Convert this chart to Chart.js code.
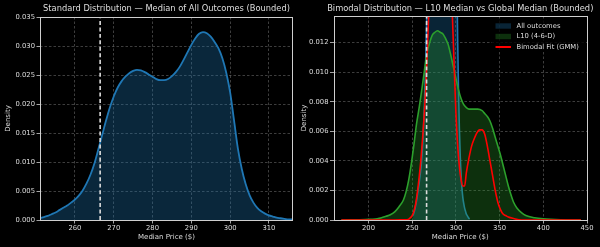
<!DOCTYPE html>
<html>
<head>
<meta charset="utf-8">
<script src="https://cdn.jsdelivr.net/npm/chart.js@4.4.0/dist/chart.umd.min.js"></script>
<style>
  html, body { margin: 0; padding: 0; background: #000; }
  #wrap { position: relative; width: 600px; height: 247px; }
  .panel { position: absolute; top: 0; width: 300px; height: 247px; }
</style>
</head>
<body>
<div id="wrap">
  <div class="panel" style="left:0"><canvas id="standard-chart" width="300" height="247"></canvas></div>
  <div class="panel" style="left:300px"><canvas id="bimodal-chart" width="300" height="247"></canvas></div>
</div>
<script>
// all outcomes: bounded KDE of the median price
var allPrice = [251, 252, 253, 254, 255, 256, 257, 258, 259, 260, 261, 262, 263, 264, 265, 266, 267, 268, 269, 270,
  271, 272, 273, 274, 275, 276, 277, 278, 279, 280, 281, 282, 283, 284, 285, 286, 287, 288, 289, 290,
  291, 292, 293, 294, 295, 296, 297, 298, 299, 300, 301, 302, 303, 304, 305, 306, 307, 308, 309, 310,
  311, 312, 313, 314, 315, 316];
var allDensity = [0.0003, 0.0005, 0.0007, 0.0010, 0.0013, 0.0017, 0.0021, 0.0025, 0.0030, 0.0035, 0.0042, 0.0051, 0.0063, 0.0078, 0.0097, 0.0121, 0.0146, 0.0171, 0.0194, 0.0213,
  0.0228, 0.0239, 0.0247, 0.0253, 0.0257, 0.0259, 0.0258, 0.0255, 0.0251, 0.0247, 0.0243, 0.0241, 0.0241, 0.0243, 0.0248, 0.0255, 0.0264, 0.0276, 0.0289, 0.0302,
  0.0313, 0.0321, 0.0324, 0.0322, 0.0316, 0.0307, 0.0296, 0.0279, 0.0254, 0.0220, 0.0172, 0.0123, 0.0088, 0.0062, 0.0043, 0.0030, 0.0021, 0.0015, 0.0011, 0.0008,
  0.0006, 0.0004, 0.0003, 0.0002, 0.0001, 0.0001];

// L10 (4-6-D)
var l10Price = [169, 180, 190, 200, 205, 210, 215, 220, 225, 230, 235, 240, 243, 246, 249, 252, 255, 258, 261, 264,
  267, 270, 273, 276, 279, 282, 285, 288, 291, 294, 297, 300, 303, 306, 309, 312, 315, 320, 325, 330,
  333, 336, 339, 342, 345, 348, 351, 354, 357, 360, 363, 366, 370, 375, 380, 390, 400, 420, 443];
var l10Density = [0, 0.00001, 0.00002, 0.00004, 0.00005, 0.00008, 0.00015, 0.00025, 0.00035, 0.00055, 0.0009, 0.00135, 0.0019, 0.0027, 0.0038, 0.0051, 0.0065, 0.0076, 0.0088, 0.0101,
  0.0113, 0.0120, 0.0125, 0.0127, 0.0128, 0.0127, 0.0126, 0.0123, 0.0119, 0.0112, 0.0104, 0.0096, 0.0088, 0.0082, 0.0078, 0.0076, 0.0075, 0.0075, 0.0075, 0.0074,
  0.0072, 0.0070, 0.0067, 0.0062, 0.0056, 0.0050, 0.0044, 0.0037, 0.0030, 0.0023, 0.0017, 0.0012, 0.0008, 0.0005, 0.0003, 0.00015, 0.00008, 0.00002, 0];

// bimodal fit (GMM)
var gmmPrice = [169, 200, 230, 240, 244, 247, 250, 252, 254, 256, 258, 260, 262, 264, 266, 268, 270, 273, 276, 280,
  284, 288, 292, 294, 296, 298, 300, 302, 304, 306, 308, 310, 312, 315, 318, 321, 324, 327, 330, 333,
  336, 339, 342, 345, 348, 351, 354, 357, 360, 366, 375, 443];
var gmmDensity = [0, 0, 0, 0.00001, 0.00002, 0.0001, 0.0003, 0.0006, 0.0011, 0.0019, 0.0029, 0.0041, 0.0056, 0.0073, 0.0095, 0.0125, 0.0155, 0.0200, 0.0240, 0.0270,
  0.0275, 0.0250, 0.0200, 0.0170, 0.0138, 0.0105, 0.0073, 0.0051, 0.0036, 0.0027, 0.0023, 0.0023, 0.0032, 0.0042, 0.0050, 0.0055, 0.0059, 0.0061, 0.0061, 0.0058,
  0.0050, 0.0040, 0.0030, 0.0020, 0.0012, 0.0007, 0.0004, 0.0003, 0.0002, 0.0001, 0, 0];

var globalMedian = 266.5;

var leftXRange = [251, 316.2];
var leftYMax = 0.035;
var leftXTicks = [260, 270, 280, 290, 300, 310];
var leftYTicks = [0, 0.005, 0.01, 0.015, 0.02, 0.025, 0.03, 0.035];

var rightXRange = [160, 450];
var rightYMax = 0.0138;
var rightXTicks = [200, 250, 300, 350, 400, 450];
var rightYTicks = [0, 0.002, 0.004, 0.006, 0.008, 0.01, 0.012];

var FONT = "'DejaVu Sans', sans-serif";
var TEXT = "#dedede";
var BLUE = "#1f77b4";
var GREEN = "#2ca02c";

function pts(xs, ys) {
  return xs.map(function (x, i) {
    return { x: x, y: ys[i] };
  });
}

function fixedTicks(list) {
  return function (scale) {
    scale.ticks = list.map(function (v) {
      return { value: v };
    });
  };
}

// frame, title and (optional) legend drawn on top of the plot
var panelDecor = {
  id: "panelDecor",
  afterDraw: function (chart, args, opts) {
    var ctx = chart.ctx;
    var a = chart.chartArea;
    ctx.save();
    ctx.strokeStyle = "#cfcfcf";
    ctx.lineWidth = 1;
    ctx.strokeRect(Math.round(a.left) + 0.5, Math.round(a.top) + 0.5,
      Math.round(a.right - a.left) - 1, Math.round(a.bottom - a.top));

    ctx.fillStyle = TEXT;
    ctx.font = "8.3px " + FONT;
    ctx.textAlign = "center";
    ctx.textBaseline = "middle";
    ctx.fillText(opts.title, (a.left + a.right) / 2, 9);

    if (opts.legend) {
      var lx = a.right - 95, ly = a.top + 3;
      ctx.fillStyle = "rgba(0,0,0,0.8)";
      ctx.fillRect(lx, ly, 92, 33);
      ctx.font = "6.8px " + FONT;
      ctx.textAlign = "left";
      chart.data.datasets.forEach(function (ds) {
        if (!ds.label) return;
        var row = ds.legendRow;
        var cy = ly + 7 + row * 10.5;
        if (ds.fill) {
          ctx.fillStyle = ds.backgroundColor;
          ctx.fillRect(lx + 3.5, cy - 2.7, 15.5, 5.4);
        } else {
          ctx.strokeStyle = ds.borderColor;
          ctx.lineWidth = 2;
          ctx.beginPath();
          ctx.moveTo(lx + 3.5, cy);
          ctx.lineTo(lx + 19, cy);
          ctx.stroke();
        }
        ctx.fillStyle = TEXT;
        ctx.fillText(ds.label, lx + 24.5, cy);
      });
    }
    ctx.restore();
  }
};

function gridStyle() {
  return {
    color: "rgba(255,255,255,0.3)",
    lineWidth: 0.8,
    tickColor: "#cfcfcf",
    tickLength: 3.5,
    tickWidth: 0.8,
    tickBorderDash: [],
  };
}

function axes(xRange, xTicks, yMax, yTicks, yWidth, yTitlePad) {
  return {
    x: {
      type: "linear",
      min: xRange[0],
      max: xRange[1],
      afterBuildTicks: fixedTicks(xTicks),
      afterFit: function (s) { s.height = 27; },
      grid: gridStyle(),
      border: { display: false, dash: [2.5, 2] },
      ticks: {
        color: TEXT,
        font: { family: FONT, size: 6.8 },
        padding: 1,
        maxRotation: 0,
        autoSkip: false,
        callback: function (v) { return String(v); },
      },
      title: {
        display: true,
        text: "Median Price ($)",
        color: TEXT,
        font: { family: FONT, size: 7 },
        padding: { top: 0, bottom: 5.4 },
      },
    },
    y: {
      min: 0,
      max: yMax,
      afterBuildTicks: fixedTicks(yTicks),
      afterFit: function (s) { s.width = yWidth; },
      grid: gridStyle(),
      border: { display: false, dash: [2.5, 2] },
      ticks: {
        color: TEXT,
        font: { family: FONT, size: 6.8 },
        padding: 1.5,
        autoSkip: false,
        callback: function (v) { return v.toFixed(3); },
      },
      title: {
        display: true,
        text: "Density",
        color: TEXT,
        font: { family: FONT, size: 7 },
        padding: { top: yTitlePad, bottom: 0 },
      },
    },
  };
}

function medianLine(yMax) {
  return {
    data: [{ x: globalMedian, y: 0 }, { x: globalMedian, y: yMax }],
    borderColor: "#dcdcdc",
    borderWidth: 1.6,
    borderDash: [4, 2.5],
    pointRadius: 0,
    fill: false,
    order: 0,
    clip: 0,
  };
}

function baseOptions(padding, decor, scales) {
  return {
    responsive: false,
    animation: false,
    events: [],
    layout: { padding: padding },
    scales: scales,
    elements: { line: { cubicInterpolationMode: "monotone" } },
    plugins: {
      legend: { display: false },
      tooltip: { enabled: false },
      panelDecor: decor,
    },
  };
}

new Chart(document.getElementById("standard-chart"), {
  type: "line",
  data: {
    datasets: [
      {
        data: pts(allPrice, allDensity),
        borderColor: BLUE,
        borderWidth: 1.8,
        backgroundColor: "rgba(31,119,180,0.33)",
        fill: "origin",
        pointRadius: 0,
        order: 2,
        clip: 0,
      },
      medianLine(leftYMax),
    ],
  },
  options: baseOptions(
    { top: 17, right: 7, left: 0, bottom: 0 },
    { title: "Standard Distribution \u2014 Median of All Outcomes (Bounded)", legend: false },
    axes(leftXRange, leftXTicks, leftYMax, leftYTicks, 40, 4)
  ),
  plugins: [panelDecor],
});

new Chart(document.getElementById("bimodal-chart"), {
  type: "line",
  data: {
    datasets: [
      {
        label: "All outcomes",
        legendRow: 0,
        data: pts(allPrice, allDensity),
        borderColor: BLUE,
        borderWidth: 1.6,
        backgroundColor: "rgba(31,119,180,0.3)",
        fill: "origin",
        pointRadius: 0,
        order: 4,
        clip: 0,
      },
      {
        label: "L10 (4-6-D)",
        legendRow: 1,
        data: pts(l10Price, l10Density),
        borderColor: GREEN,
        borderWidth: 1.6,
        backgroundColor: "rgba(44,160,44,0.3)",
        fill: "origin",
        pointRadius: 0,
        order: 3,
        clip: 0,
      },
      {
        label: "Bimodal Fit (GMM)",
        legendRow: 2,
        data: pts(gmmPrice, gmmDensity),
        borderColor: "#ff0000",
        borderWidth: 1.6,
        fill: false,
        pointRadius: 0,
        order: 2,
        clip: 0,
      },
      medianLine(rightYMax),
    ],
  },
  options: baseOptions(
    { top: 16, right: 13, left: 0, bottom: 0 },
    { title: "Bimodal Distribution \u2014 L10 Median vs Global Median (Bounded)", legend: true },
    axes(rightXRange, rightXTicks, rightYMax, rightYTicks, 33.5, 0)
  ),
  plugins: [panelDecor],
});
</script>
</body>
</html>
